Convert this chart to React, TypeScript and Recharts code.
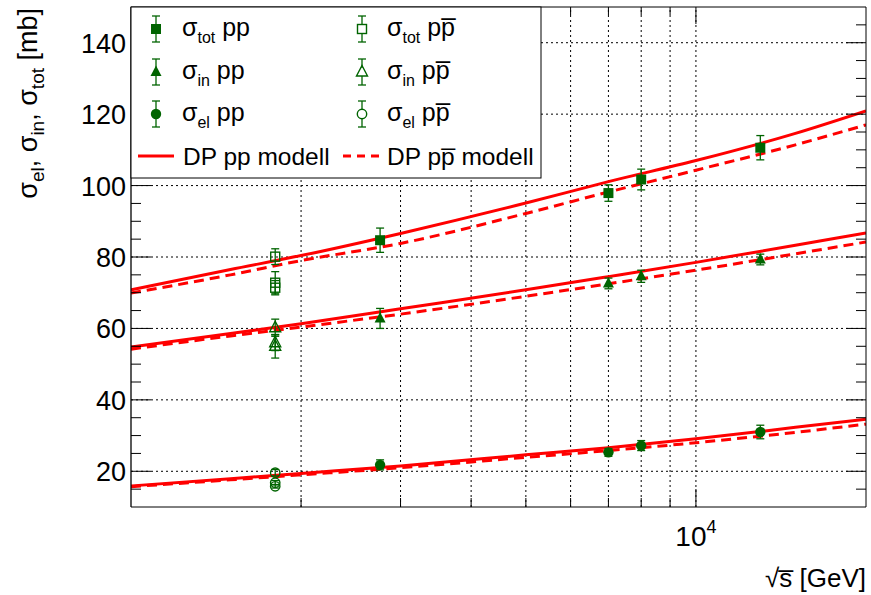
import React from "react";
import {
    ComposedChart,
    Line,
    Scatter,
    XAxis,
    YAxis,
    ErrorBar,
    ReferenceLine
} from "recharts";

const GREEN = "#006400";
const RED = "#ff0000";
const FONT = "'Liberation Sans', Arial, Helvetica, sans-serif";

// measured points (sqrt(s) in GeV, cross sections in mb)
const ppEnergy = [2760, 7000, 8000, 13000];
const ppTot = [84.7, 97.9, 101.7, 110.6];
const ppTotErr = [3.4, 2.3, 2.9, 3.4];
const ppIn = [62.8, 72.6, 74.6, 79.3];
const ppInErr = [2.8, 1.5, 1.7, 1.5];
const ppEl = [21.8, 25.3, 27.2, 31.0];
const ppElErr = [1.4, 1.1, 1.4, 1.9];

const ppbarEnergy = [1800, 1800, 1800];
const ppbarTot = [80.1, 72.8, 71.4];
const ppbarTotErr = [2.2, 3.1, 2.0];
const ppbarIn = [60.2, 56.0, 55.0];
const ppbarInErr = [2.4, 2.2, 3.3];
const ppbarEl = [19.6, 16.8, 15.8];
const ppbarElErr = [0.9, 0.6, 0.5];

// DP model curves
const modelEnergy = [1000, 1500, 2000, 3000, 5000, 7000, 10000, 15000, 20000];
const dpPpTot = [70.8, 76.5, 80.4, 86.6, 95.1, 101.1, 107.0, 114.6, 120.9];
const dpPpbarTot = [69.9, 75.0, 79.0, 83.8, 92.2, 98.2, 104.3, 111.4, 117.0];
const dpPpIn = [54.8, 58.6, 61.3, 65.5, 70.8, 74.5, 78.5, 83.3, 86.7];
const dpPpbarIn = [54.2, 57.9, 60.4, 64.0, 69.0, 72.5, 76.3, 80.9, 84.2];
const dpPpEl = [15.9, 17.9, 19.4, 21.5, 24.6, 26.6, 29.1, 32.3, 34.6];
const dpPpbarEl = [15.7, 17.6, 19.0, 21.0, 23.9, 25.8, 28.0, 30.9, 33.2];

const xTicks = [2000, 3000, 4000, 5000, 6000, 7000, 8000, 9000, 10000];
const xGrid = [2000, 3000, 4000, 5000, 6000, 7000, 8000, 9000, 10000];
const yTicks = [15, 20, 25, 30, 35, 40, 45, 50, 55, 60, 65, 70, 75, 80, 85, 90, 95, 100, 105, 110, 115, 120, 125, 130, 135, 140, 145];
const yMajor = [20, 40, 60, 80, 100, 120, 140];

const pts = (xs: number[], ys: number[], errs?: number[]) =>
    xs.map((x, i) => ({ x, y: ys[i], err: errs ? errs[i] : 0 }));

type Kind = "square" | "triangle" | "circle";

function Marker({ cx, cy, kind, filled }: { cx: number, cy: number, kind: Kind, filled: boolean }) {
    const fill = filled ? GREEN : "none";
    const sw = filled ? 0 : 1.4;
    if (kind === "square") {
        const s = filled ? 5 : 4.5;
        return <rect x={cx - s} y={cy - s} width={2 * s} height={2 * s} fill={fill} stroke={GREEN} strokeWidth={sw} />;
    }
    if (kind === "triangle") {
        return <polygon points={`${cx},${cy - 6.5} ${cx + 5.5},${cy + 4} ${cx - 5.5},${cy + 4}`} fill={fill} stroke={GREEN} strokeWidth={sw} />;
    }
    return <circle cx={cx} cy={cy} r={filled ? 5.2 : 4.7} fill={fill} stroke={GREEN} strokeWidth={sw} />;
}

const shapeOf = (kind: Kind, filled: boolean) => (p: any) =>
    <Marker cx={p.cx} cy={p.cy} kind={kind} filled={filled} />;

// ROOT style ticks pointing inward
const LeftTick = (p: any) => {
    const v = p.payload.value;
    const major = v % 20 === 0;
    return (
        <g>
            <line x1={p.x} y1={p.y} x2={p.x + (major ? 20 : 10)} y2={p.y} stroke="#000" strokeWidth={1} />
            {major && (
                <text x={p.x - 5} y={p.y + 10} textAnchor="end" fontSize={27} fontFamily={FONT} fill="#000">{v}</text>
            )}
        </g>
    );
};

const RightTick = (p: any) => {
    const major = p.payload.value % 20 === 0;
    return <line x1={p.x} y1={p.y} x2={p.x - (major ? 20 : 10)} y2={p.y} stroke="#000" strokeWidth={1} />;
};

const BottomTick = (p: any) => {
    const v = p.payload.value;
    const major = v === 10000;
    return (
        <g>
            <line x1={p.x} y1={p.y} x2={p.x} y2={p.y - (major ? 18 : 9)} stroke="#000" strokeWidth={1} />
            {major && (
                <text x={p.x} y={p.y + 39} textAnchor="middle" fontSize={28} fontFamily={FONT} fill="#000">
                    10<tspan fontSize={18} dy={-13}>4</tspan>
                </text>
            )}
        </g>
    );
};

const TopTick = (p: any) => {
    const major = p.payload.value === 10000;
    return <line x1={p.x} y1={p.y} x2={p.x} y2={p.y + (major ? 17 : 8)} stroke="#000" strokeWidth={1} />;
};

function LegendMarker({ x, y, kind, filled }: { x: number, y: number, kind: Kind, filled: boolean }) {
    return (
        <g>
            <line x1={x} y1={y - 13} x2={x} y2={y + 13} stroke={GREEN} strokeWidth={1.3} />
            <line x1={x - 4} y1={y - 13} x2={x + 4} y2={y - 13} stroke={GREEN} strokeWidth={1.3} />
            <line x1={x - 4} y1={y + 13} x2={x + 4} y2={y + 13} stroke={GREEN} strokeWidth={1.3} />
            {!filled && <rect x={x - 4} y={y - 4} width={8} height={8} fill="#fff" stroke="none" />}
            <Marker cx={x} cy={y} kind={kind} filled={filled} />
        </g>
    );
}

function SigmaLabel({ x, y, sub, pbar }: { x: number, y: number, sub: string, pbar: boolean }) {
    return (
        <text x={x} y={y} fontSize={25} fontFamily={FONT} fill="#000">
            σ<tspan fontSize={16} dy={7}>{sub}</tspan>
            <tspan dy={-7}>{pbar ? " pp\u0305" : " pp"}</tspan>
        </text>
    );
}

function Overlay() {
    const rows: { sub: string, kind: Kind, y: number }[] = [
        { sub: "tot", kind: "square", y: 29 },
        { sub: "in", kind: "triangle", y: 72 },
        { sub: "el", kind: "circle", y: 114 }
    ];
    return (
        <svg width={871} height={595} style={{ position: "absolute", left: 0, top: 0, pointerEvents: "none" }}>
            {/* legend */}
            <rect x={131} y={7} width={410} height={171} fill="#fff" stroke="#000" strokeWidth={1} />
            {rows.map((r) => (
                <g key={r.sub}>
                    <LegendMarker x={156} y={r.y} kind={r.kind} filled />
                    <SigmaLabel x={182} y={r.y + 7} sub={r.sub} pbar={false} />
                    <LegendMarker x={362} y={r.y} kind={r.kind} filled={false} />
                    <SigmaLabel x={387} y={r.y + 7} sub={r.sub} pbar />
                </g>
            ))}
            <line x1={138} y1={156} x2={174} y2={156} stroke={RED} strokeWidth={3} />
            <text x={183} y={165} fontSize={24.5} fontFamily={FONT} fill="#000">DP pp modell</text>
            <line x1={343} y1={156} x2={379} y2={156} stroke={RED} strokeWidth={3} strokeDasharray="8 6" />
            <text x={387} y={165} fontSize={24.5} fontFamily={FONT} fill="#000">DP pp{"\u0305"} modell</text>

            {/* axis titles */}
            <text transform="translate(37,8) rotate(-90)" textAnchor="end" fontSize={27} fontFamily={FONT} fill="#000">
                σ<tspan fontSize={19} dy={7}>el</tspan>
                <tspan dy={-7}>, σ</tspan>
                <tspan fontSize={19} dy={7}>in</tspan>
                <tspan dy={-7}>, σ</tspan>
                <tspan fontSize={19} dy={7}>tot</tspan>
                <tspan dy={-7}> [mb]</tspan>
            </text>
            <text x={866} y={587} textAnchor="end" fontSize={26} fontFamily={FONT} fill="#000">√s{"\u0305"} [GeV]</text>
        </svg>
    );
}

export default function App() {
    const series: { xs: number[], ys: number[], errs: number[], kind: Kind, filled: boolean }[] = [
        { xs: ppbarEnergy, ys: ppbarTot, errs: ppbarTotErr, kind: "square", filled: false },
        { xs: ppbarEnergy, ys: ppbarIn, errs: ppbarInErr, kind: "triangle", filled: false },
        { xs: ppbarEnergy, ys: ppbarEl, errs: ppbarElErr, kind: "circle", filled: false },
        { xs: ppEnergy, ys: ppTot, errs: ppTotErr, kind: "square", filled: true },
        { xs: ppEnergy, ys: ppIn, errs: ppInErr, kind: "triangle", filled: true },
        { xs: ppEnergy, ys: ppEl, errs: ppElErr, kind: "circle", filled: true }
    ];
    const curves: { ys: number[], dashed: boolean }[] = [
        { ys: dpPpTot, dashed: false },
        { ys: dpPpbarTot, dashed: true },
        { ys: dpPpIn, dashed: false },
        { ys: dpPpbarIn, dashed: true },
        { ys: dpPpEl, dashed: false },
        { ys: dpPpbarEl, dashed: true }
    ];

    return (
        <div style={{ position: "absolute", left: 0, top: 0, width: 871, height: 595, background: "#fff" }}>
            <ComposedChart width={871} height={595} margin={{ top: 0, right: 0, bottom: 0, left: 0 }}>
                <XAxis xAxisId="b" dataKey="x" type="number" scale="log" domain={[1000, 20000]} allowDataOverflow
                    ticks={xTicks} height={88} tickSize={0} tickMargin={0} tickLine={false}
                    axisLine={{ stroke: "#000", strokeWidth: 1 }} tick={BottomTick} interval={0} />
                <XAxis xAxisId="t" dataKey="x" orientation="top" type="number" scale="log" domain={[1000, 20000]} allowDataOverflow
                    ticks={xTicks} height={7} tickSize={0} tickMargin={0} tickLine={false}
                    axisLine={{ stroke: "#000", strokeWidth: 1 }} tick={TopTick} interval={0} />
                <YAxis yAxisId="l" type="number" domain={[10, 150]} allowDataOverflow ticks={yTicks} width={131}
                    tickSize={0} tickMargin={0} tickLine={false} interval={0}
                    axisLine={{ stroke: "#000", strokeWidth: 1.3 }} tick={LeftTick} />
                <YAxis yAxisId="r" orientation="right" type="number" domain={[10, 150]} allowDataOverflow ticks={yTicks} width={5}
                    tickSize={0} tickMargin={0} tickLine={false} interval={0}
                    axisLine={{ stroke: "#000", strokeWidth: 1 }} tick={RightTick} />

                {yMajor.map((v) => (
                    <ReferenceLine key={`gy${v}`} xAxisId="b" yAxisId="l" y={v} stroke="#000" strokeWidth={1} strokeDasharray="2 3" />
                ))}
                {xGrid.map((v) => (
                    <ReferenceLine key={`gx${v}`} xAxisId="b" yAxisId="l" x={v} stroke="#000" strokeWidth={1} strokeDasharray="2 3" />
                ))}

                {curves.map((c, i) => (
                    <Line key={`c${i}`} xAxisId="b" yAxisId="l" data={pts(modelEnergy, c.ys)} dataKey="y"
                        type="monotone" stroke={RED} strokeWidth={3} dot={false} activeDot={false}
                        strokeDasharray={c.dashed ? "10 6" : undefined} isAnimationActive={false} />
                ))}

                {series.map((s, i) => (
                    <Scatter key={`s${i}`} xAxisId="b" yAxisId="l" data={pts(s.xs, s.ys, s.errs)} dataKey="y"
                        shape={shapeOf(s.kind, s.filled)} isAnimationActive={false}>
                        <ErrorBar dataKey="err" direction="y" width={4} stroke={GREEN} strokeWidth={1.3} />
                    </Scatter>
                ))}
            </ComposedChart>
            <Overlay />
        </div>
    );
}
